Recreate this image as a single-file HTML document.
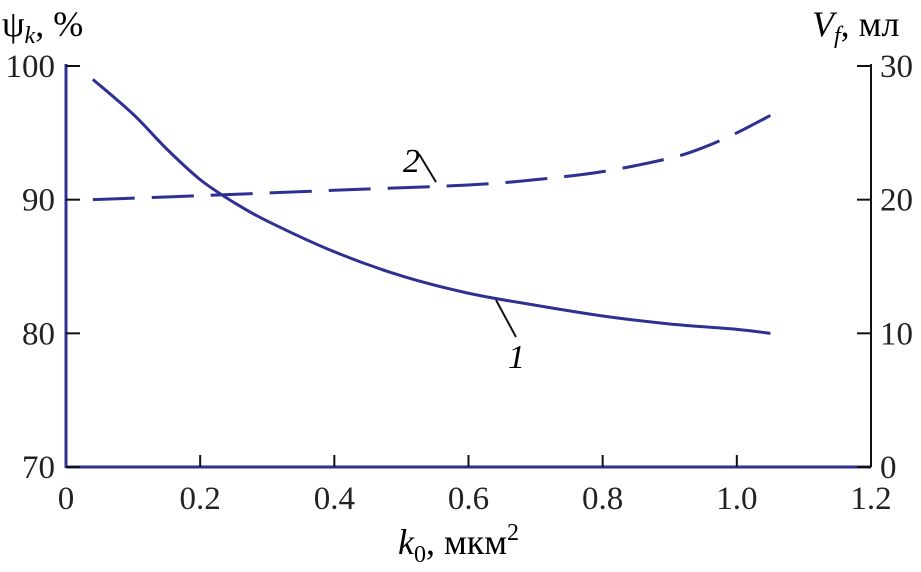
<!DOCTYPE html>
<html><head><meta charset="utf-8"><style>
html,body{margin:0;padding:0;background:#fff}
svg{display:block;font-family:"Liberation Serif",serif}
</style></head><body>
<svg id="chart" width="921" height="572" viewBox="0 0 921 572" xmlns="http://www.w3.org/2000/svg">
<g id="axes"></g>
<g id="series"></g>
<text x="2" y="36" font-size="36">ψ<tspan font-style="italic" font-size="24" dy="7">k</tspan><tspan dy="-7">, %</tspan></text>
<text x="812" y="36" font-size="36"><tspan font-style="italic">V</tspan><tspan font-style="italic" font-size="24" dy="7">f</tspan><tspan dy="-7">, мл</tspan></text>
<text x="398" y="554" font-size="36"><tspan font-style="italic">k</tspan><tspan font-size="24" dy="8">0</tspan><tspan dy="-8">, мкм</tspan><tspan font-size="24" dy="-14">2</tspan></text>
<g>
<text x="403" y="172" font-size="34" font-style="italic">2</text>
<line x1="419" y1="154" x2="436" y2="182" stroke="#111" stroke-width="2"/>
</g>
<g>
<text x="508" y="368" font-size="34" font-style="italic">1</text>
<line x1="496" y1="300" x2="516" y2="337" stroke="#111" stroke-width="2"/>
</g>
</svg>
<script>
const xTicks=[0,0.2,0.4,0.6,0.8,1.0,1.2];
const xTickLabels=["0","0.2","0.4","0.6","0.8","1.0","1.2"];
const leftTicks=[70,80,90,100];
const rightTicks=[0,10,20,30];
const curve1X=[0.04,0.1,0.15,0.2,0.25,0.3,0.4,0.5,0.6,0.7,0.8,0.9,1.0,1.05];
const curve1Y=[99,96.4,93.8,91.5,89.8,88.4,86.1,84.3,83,82.1,81.3,80.7,80.3,80];
const curve2X=[0.04,0.2,0.4,0.6,0.7,0.8,0.9,0.95,1.0,1.05];
const curve2Y=[20,20.3,20.7,21.1,21.5,22.1,23.1,23.9,25,26.3];
const X0=66,X1=871,YT=66,YB=467;
const sx=v=>X0+(v-0)/1.2*(X1-X0);
const syL=v=>YB-(v-70)/30*(YB-YT);
const syR=v=>YB-(v-0)/30*(YB-YT);
const NS="http://www.w3.org/2000/svg";
const axes=document.getElementById('axes'),series=document.getElementById('series');
function mk(tag,attrs,parent){const e=document.createElementNS(NS,tag);for(const k in attrs)e.setAttribute(k,attrs[k]);parent.appendChild(e);return e;}
const blue="#2e3192";
let e;
e=mk('line',{x1:X0,y1:YT-2,x2:X0,y2:YB+1,stroke:blue,'stroke-width':3},axes);


e=mk('line',{x1:X0,y1:YB,x2:X1,y2:YB,stroke:blue,'stroke-width':3},axes);


e=mk('line',{x1:X1,y1:YT-2,x2:X1,y2:YB,stroke:"#111",'stroke-width':2},axes);


xTicks.forEach((v,i)=>{
 if(i>0&&i<xTicks.length-1){e=mk('line',{x1:sx(v),y1:YB,x2:sx(v),y2:YB-12,stroke:"#111",'stroke-width':2},axes);
 
 }
 e=mk('text',{x:sx(v),y:509,'font-size':33,'text-anchor':'middle',fill:'#222'},axes);e.textContent=xTickLabels[i];
 
 
});
leftTicks.forEach(v=>{
 e=mk('line',{x1:X0,y1:syL(v),x2:X0+14,y2:syL(v),stroke:"#111",'stroke-width':2},axes);
 
 
 e=mk('text',{x:55,y:syL(v)+11,'font-size':33,'text-anchor':'end',fill:'#222'},axes);e.textContent=v;
 
 
});
rightTicks.forEach(v=>{
 e=mk('line',{x1:X1,y1:syR(v),x2:X1-14,y2:syR(v),stroke:"#111",'stroke-width':2},axes);
 
 
 e=mk('text',{x:880,y:syR(v)+11,'font-size':33,'text-anchor':'start',fill:'#222'},axes);e.textContent=v;
 
 
});
function smooth(pts){let d=`M${pts[0][0]},${pts[0][1]}`;for(let i=0;i<pts.length-1;i++){const p0=pts[i-1]||pts[i],p1=pts[i],p2=pts[i+1],p3=pts[i+2]||p2;
d+=` C${p1[0]+(p2[0]-p0[0])/6},${p1[1]+(p2[1]-p0[1])/6} ${p2[0]-(p3[0]-p1[0])/6},${p2[1]-(p3[1]-p1[1])/6} ${p2[0]},${p2[1]}`;}return d;}
e=mk('path',{d:smooth(curve1X.map((x,i)=>[sx(x),syL(curve1Y[i])])),fill:'none',stroke:blue,'stroke-width':3},series);


e=mk('path',{d:smooth(curve2X.map((x,i)=>[sx(x),syR(curve2Y[i])])),fill:'none',stroke:blue,'stroke-width':3,'stroke-dasharray':'42,17'},series);


</script>
</body></html>
